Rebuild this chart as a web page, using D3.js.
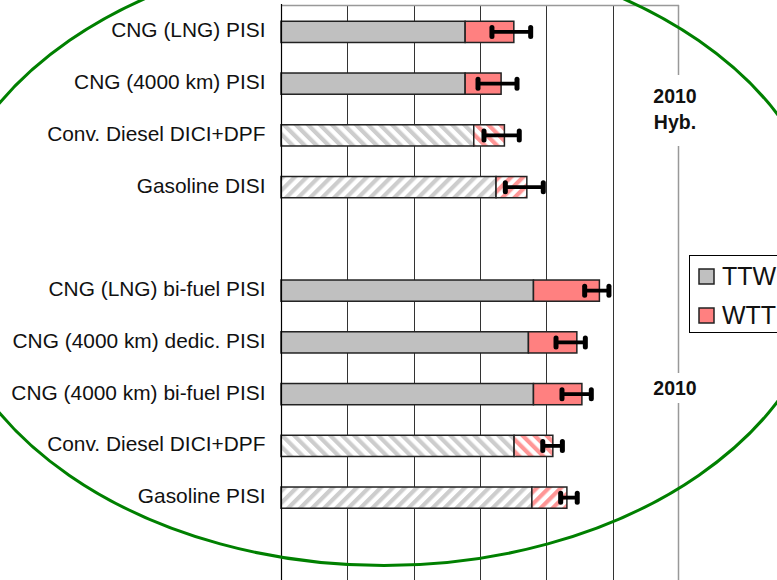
<!DOCTYPE html>
<html>
<head>
<meta charset="utf-8">
<script src="https://cdn.jsdelivr.net/npm/d3@7/dist/d3.min.js"></script>
<style>
  html, body { margin: 0; padding: 0; background: #fff; }
  svg { display: block; }
</style>
</head>
<body>
<svg id="chart" width="777" height="580"></svg>
<script>
// ---------- data ----------
const categories = [
  "CNG (LNG) PISI",
  "CNG (4000 km) PISI",
  "Conv. Diesel DICI+DPF",
  "Gasoline DISI",
  "",
  "CNG (LNG) bi-fuel PISI",
  "CNG (4000 km) dedic. PISI",
  "CNG (4000 km) bi-fuel PISI",
  "Conv. Diesel DICI+DPF",
  "Gasoline PISI"
];
const fuel = ["CNG", "CNG", "Diesel", "Gasoline", null, "CNG", "CNG", "CNG", "Diesel", "Gasoline"];
const ttw     = [138.8, 138.8, 145.3, 162.1, null, 190.3, 186.5, 190.3, 175.7, 189.1];
const wtt     = [36.7,  27.1,  23.1,  23.2,  null, 49.7,  36.5,  36.5,  29.2,  26.4];
const errLow  = [159.0, 148.5, 153.0, 169.1, null, 228.9, 207.3, 211.8, 197.3, 210.8];
const errHigh = [188.2, 177.9, 179.6, 197.7, null, 247.2, 229.4, 233.9, 212.1, 223.3];
const xTicks = [0, 50, 100, 150, 200, 250, 300];
const seriesNames = ["TTW", "WTT"];
const groupLabels = [["2010", "Hyb."], ["2010"]];

// ---------- setup ----------
const svg = d3.select("#chart");
const FONT = "'Liberation Sans', Arial, Helvetica, sans-serif";
const colors = { TTW: "#c0c0c0", WTT: "#ff8080" };

const x = d3.scaleLinear().domain([0, 300]).range([281, 679]);
const idx = categories.map((d, i) => i);
const y = d3.scaleBand().domain(idx).range([6, 523.5]).paddingInner(0.59).paddingOuter(0.295);
const plotTop = 6, plotBottom = 600;

// patterns
const defs = svg.append("defs");
function hatch(id, color, angle) {
  const p = defs.append("pattern")
    .attr("id", id).attr("patternUnits", "userSpaceOnUse")
    .attr("width", 8.5).attr("height", 8.5)
    .attr("patternTransform", `rotate(${angle})`);
  p.append("rect").attr("width", 8.5).attr("height", 8.5).attr("fill", "#fff");
  p.append("rect").attr("x", 0).attr("width", 4.2).attr("height", 8.5).attr("fill", color);
}
hatch("ttw-fwd", "#cdcdcd", 45);
hatch("ttw-back", "#cdcdcd", -45);
hatch("wtt-fwd", "#ff9696", 45);
hatch("wtt-back", "#ff9696", -45);

function fillFor(series, f) {
  if (f === "Gasoline") return `url(#${series.toLowerCase()}-fwd)`;
  if (f === "Diesel") return `url(#${series.toLowerCase()}-back)`;
  return colors[series];
}

// ---------- grid ----------
svg.append("g").selectAll("line").data(xTicks.slice(1, -1)).join("line")
  .attr("x1", d => Math.round(x(d)) + 0.5).attr("x2", d => Math.round(x(d)) + 0.5)
  .attr("y1", plotTop).attr("y2", plotBottom)
  .attr("stroke", "#333").attr("stroke-width", 1);

// plot border (top + right)
svg.append("line").attr("x1", x(0)).attr("x2", x(300)).attr("y1", 5.5).attr("y2", 5.5)
  .attr("stroke", "#999").attr("stroke-width", 1.5);
svg.append("line").attr("x1", x(300) - 0.5).attr("x2", x(300) - 0.5).attr("y1", 5).attr("y2", plotBottom)
  .attr("stroke", "#999").attr("stroke-width", 1.5);

// ---------- bars ----------
const rows = idx.filter(i => ttw[i] != null);
const gBars = svg.append("g");
gBars.selectAll("rect.ttw").data(rows).join("rect")
  .attr("class", "ttw")
  .attr("x", x(0)).attr("y", i => y(i))
  .attr("width", i => x(ttw[i]) - x(0)).attr("height", y.bandwidth())
  .attr("fill", i => fillFor("TTW", fuel[i]))
  .attr("stroke", "#222").attr("stroke-width", 1.5);
gBars.selectAll("rect.wtt").data(rows).join("rect")
  .attr("class", "wtt")
  .attr("x", i => x(ttw[i])).attr("y", i => y(i))
  .attr("width", i => x(ttw[i] + wtt[i]) - x(ttw[i])).attr("height", y.bandwidth())
  .attr("fill", i => fillFor("WTT", fuel[i]))
  .attr("stroke", "#222").attr("stroke-width", 1.5);

// error bars
const gErr = svg.append("g");
gErr.selectAll("line.err").data(rows).join("line")
  .attr("x1", i => x(errLow[i])).attr("x2", i => x(errHigh[i]))
  .attr("y1", i => y(i) + y.bandwidth() / 2).attr("y2", i => y(i) + y.bandwidth() / 2)
  .attr("stroke", "#000").attr("stroke-width", 3.8);
["low", "high"].forEach(k => {
  gErr.selectAll("line.cap-" + k).data(rows).join("line")
    .attr("x1", i => x(k === "low" ? errLow[i] : errHigh[i]))
    .attr("x2", i => x(k === "low" ? errLow[i] : errHigh[i]))
    .attr("y1", i => y(i) + y.bandwidth() / 2 - 4.5)
    .attr("y2", i => y(i) + y.bandwidth() / 2 + 4.5)
    .attr("stroke", "#000").attr("stroke-width", 5).attr("stroke-linecap", "round");
});

// left axis
const SX = 1.045;
const yAxis = d3.axisLeft(y).tickSize(0).tickPadding(0).tickFormat(i => categories[i]);
const ga = svg.append("g").attr("transform", `translate(${x(0)},0)`).call(yAxis);
ga.select(".domain").remove();
svg.append("line").attr("x1", x(0) + 0.5).attr("x2", x(0) + 0.5).attr("y1", 4).attr("y2", plotBottom)
  .attr("stroke", "#000").attr("stroke-width", 1.2);
ga.selectAll("text")
  .attr("font-family", FONT).attr("font-size", 20).attr("fill", "#111")
  .attr("x", -15.5 / SX).attr("dy", "0.28em")
  .attr("transform", `scale(${SX},1)`);

// ---------- group labels ----------
groupLabels.forEach((lines, k) => {
  const cx = 675;
  const top = k === 0 ? 75 : 373;
  const bottom = k === 0 ? 146 : 403;
  svg.append("rect").attr("x", cx - 26).attr("y", top).attr("width", 52).attr("height", bottom - top).attr("fill", "#fff");
  const baseline = k === 0 ? 103 : 395;
  lines.forEach((t, j) => {
    svg.append("text").attr("x", cx).attr("y", baseline + j * 26)
      .attr("text-anchor", "middle").attr("font-family", FONT)
      .attr("font-weight", "bold").attr("font-size", 19.5).attr("fill", "#111").text(t);
  });
});

// ---------- legend ----------
const lg = svg.append("g");
lg.append("rect").attr("x", 689.5).attr("y", 255.5).attr("width", 120).attr("height", 77)
  .attr("fill", "#fff").attr("stroke", "#000").attr("stroke-width", 1);
seriesNames.forEach((s, j) => {
  const yy = 269 + j * 39;
  lg.append("rect").attr("x", 699).attr("y", yy).attr("width", 15).attr("height", 15)
    .attr("fill", colors[s]).attr("stroke", "#222").attr("stroke-width", 1.5);
  lg.append("text").attr("x", 722).attr("y", yy + 16)
    .attr("font-family", FONT).attr("font-size", 25).attr("fill", "#111").text(s);
});

// ---------- green ellipse ----------
svg.append("ellipse").attr("cx", 384).attr("cy", 258).attr("rx", 445).attr("ry", 307.5)
  .attr("fill", "none").attr("stroke", "#008000").attr("stroke-width", 3);
</script>
</body>
</html>
